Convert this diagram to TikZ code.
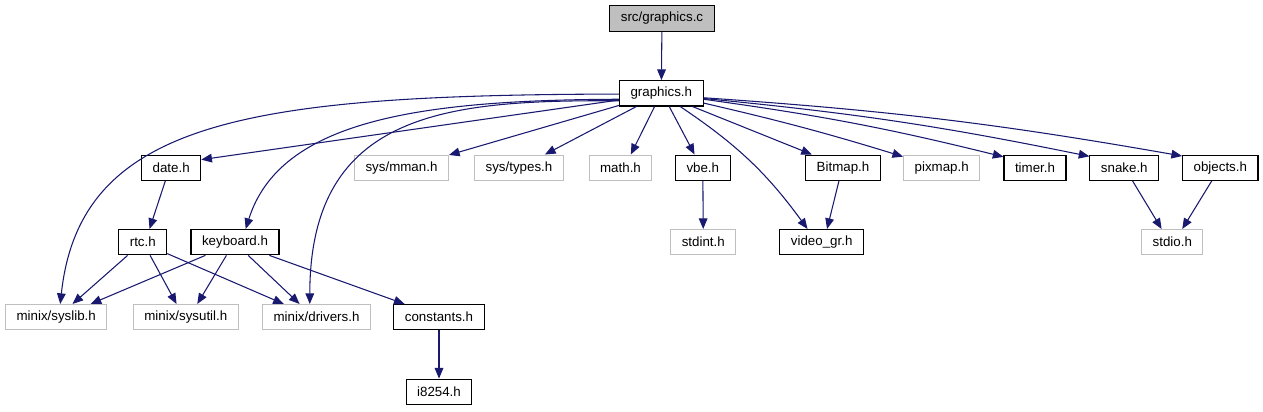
\documentclass[tikz,border=0pt]{standalone}
\usepackage{fontspec}
\setmainfont{Liberation Sans}
\usetikzlibrary{arrows.meta}
\definecolor{edgeblue}{HTML}{191970}
\definecolor{lightframe}{HTML}{BFBFBF}
\begin{document}
\begin{tikzpicture}[x=0.75pt,y=-0.75pt,>={Triangle[length=8pt,width=6.5pt]},
	file/.style={draw=black,line width=0.8pt,inner xsep=8.25pt,inner ysep=0pt,minimum height=19pt,font=\fontsize{10}{12}\selectfont},
	sysfile/.style={file,draw=lightframe},
	dep/.style={->,edgeblue,line width=0.8pt}]
	\useasboundingbox (0,0) rectangle (1263,411);
	% row 0 and 1
	\node[file,fill=lightframe] (gc) at (662,18.5) {src/graphics.c};
	\node[file] (gh) at (661.3,93.3) {graphics.h};
	% row 2
	\node[file] (date) at (171.2,167.7) {date.h};
	\node[sysfile] (mman) at (401.5,167.7) {sys/mman.h};
	\node[sysfile] (types) at (519,167.7) {sys/types.h};
	\node[sysfile] (mathh) at (620.5,167.7) {math.h};
	\node[file] (vbe) at (702.8,167.7) {vbe.h};
	\node[file] (bitmap) at (843,167.7) {Bitmap.h};
	\node[sysfile] (pixmap) at (941.7,167.7) {pixmap.h};
	\node[file] (timer) at (1035,167.7) {timer.h};
	\node[file] (snake) at (1124.3,167.7) {snake.h};
	\node[file] (objects) at (1220.3,167.7) {objects.h};
	% row 3
	\node[file] (rtc) at (142.8,242.2) {rtc.h};
	\node[file] (kbd) at (235,242.2) {keyboard.h};
	\node[sysfile] (stdint) at (703.3,242.2) {stdint.h};
	\node[file] (videogr) at (821.7,242.2) {video\_gr.h};
	\node[sysfile] (stdio) at (1172.3,242.2) {stdio.h};
	% row 4 and 5
	\node[sysfile] (syslib) at (56.2,317.2) {minix/syslib.h};
	\node[sysfile] (sysutil) at (185.8,317.2) {minix/sysutil.h};
	\node[sysfile] (drivers) at (316.5,317.2) {minix/drivers.h};
	\node[file] (consts) at (439,317.2) {constants.h};
	\node[file] (i8254) at (439,391.8) {i8254.h};
	% includes of graphics.h
	\draw[dep] (gc) -- (gh);
	\draw[dep] (gh.181.4) .. controls (250,95) and (80,120) .. (syslib.73);
	\draw[dep] (gh.189.4) -- (date.15.4);
	\draw[dep] (gh.188) .. controls (420,100) and (280,120) .. (kbd.51.8);
	\draw[dep] (gh.190) .. controls (450,100) and (310,110) .. (drivers.117);
	\draw[dep] (gh.196.7) -- (mman.15);
	\draw[dep] (gh.208.6) -- (types.27.3);
	\draw[dep] (gh.243.6) -- (mathh.52.5);
	\draw[dep] (gh.301) -- (vbe.122);
	\draw[dep] (gh.325.8) to[bend left=10] (videogr.137);
	\draw[dep] (gh.337.3) -- (bitmap.157.3);
	\draw[dep] (gh.347.4) to[bend left=2] (pixmap.164.9);
	\draw[dep] (gh.352) to[bend left=3] (timer.161.3);
	\draw[dep] (gh.353.7) to[bend left=3] (snake.162.5);
	\draw[dep] (gh.354.6) to[bend left=3] (objects.163);
	% lower levels
	\draw[dep] (date.246.4) -- (rtc.63.3);
	\draw[dep] (rtc.221.3) -- (syslib.39.8);
	\draw[dep] (rtc.299) -- (sysutil.125.2);
	\draw[dep] (rtc.335.7) -- (drivers.158.8);
	\draw[dep] (kbd.204.7) -- (syslib.21.9);
	\draw[dep] (kbd.237.4) -- (sysutil.49.8);
	\draw[dep] (kbd.315.7) -- (drivers.142);
	\draw[dep] (kbd.339.6) -- (consts.159.2);
	\draw[dep] (consts) -- (i8254);
	\draw[dep] (vbe) -- (stdint);
	\draw[dep] (bitmap.253.6) -- (videogr.68.8);
	\draw[dep] (snake.302.4) -- (stdio.129.4);
	\draw[dep] (objects.237.6) -- (stdio.53.9);
\end{tikzpicture}
\end{document}
